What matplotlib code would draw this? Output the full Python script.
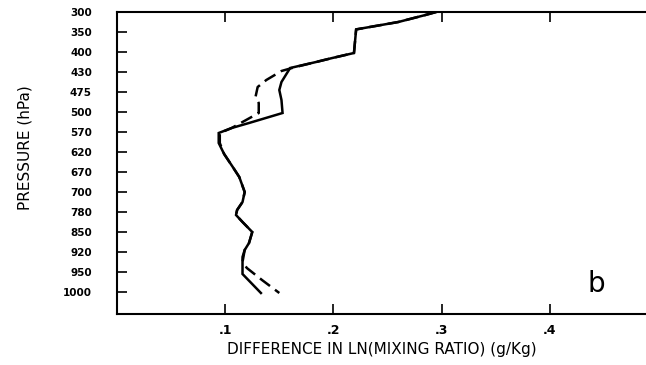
import numpy as np
import matplotlib.pyplot as plt

# pressure levels (plotted evenly spaced, top to bottom)
levels = ['300', '350', '400', '430', '475', '500', '570', '620',
          '670', '700', '780', '850', '920', '950', '1000']

# solid profile: level position (index into levels) and value
solid_lev = [0.0, 0.15, 0.5, 0.87, 2.05, 2.3, 2.5, 2.8, 3.5, 3.9, 4.4,
             5.05, 5.55, 5.8, 6.05, 6.55, 7.1, 7.75, 8.25, 9.0, 9.5, 9.9,
             10.15, 10.5, 11.0, 11.55, 11.9, 12.25, 13.1, 14.05]
solid_val = [0.295, 0.285, 0.26, 0.221, 0.219, 0.199, 0.184, 0.160, 0.152,
             0.150, 0.152, 0.153, 0.122, 0.106, 0.094, 0.094, 0.099, 0.107,
             0.113, 0.118, 0.116, 0.111, 0.110, 0.116, 0.125, 0.122, 0.118,
             0.116, 0.116, 0.133]

# dashed profile
dash_lev = [0.0, 0.15, 0.5, 0.87, 2.05, 2.3, 2.5, 2.75, 2.95, 3.4, 3.75,
            4.25, 4.55, 5.05, 5.5, 5.8, 6.05, 6.55, 7.1, 7.75, 8.25, 9.0,
            9.5, 9.9, 10.15, 10.5, 11.0, 11.55, 11.9, 12.5, 12.8, 13.4, 14.05]
dash_val = [0.295, 0.285, 0.26, 0.221, 0.219, 0.199, 0.184, 0.165, 0.152,
            0.138, 0.130, 0.128, 0.131, 0.131, 0.116, 0.106, 0.095, 0.095,
            0.099, 0.107, 0.113, 0.118, 0.116, 0.111, 0.110, 0.116, 0.125,
            0.122, 0.118, 0.116, 0.120, 0.134, 0.150]

xticks = [0.1, 0.2, 0.3, 0.4]
xticklabels = ['.1', '.2', '.3', '.4']

fig = plt.figure(figsize=(6.46, 3.65), dpi=100)
ax = fig.add_axes([117/646, 1 - 314/365, 1 - 117/646, (314 - 12)/365])

ax.plot(solid_val, solid_lev, color='black', lw=1.8, solid_joinstyle='miter')
ax.plot(dash_val, dash_lev, color='black', lw=1.8, dashes=(5, 2.5))

ax.set_xlim(0, (646 - 118) / 1080)
ax.set_ylim(15.1, 0)

ax.set_yticks(range(len(levels)))
ax.set_yticklabels(levels, fontsize=7.5, fontweight='bold')
ax.set_xticks(xticks)
ax.set_xticklabels(xticklabels, fontsize=9, fontweight='bold')

ax.tick_params(axis='y', direction='in', length=7, width=1.2, pad=18)
ax.tick_params(axis='x', direction='in', length=7, width=1.2, pad=7,
               top=True)
ax.spines['right'].set_visible(False)
for s in ['left', 'top', 'bottom']:
    ax.spines[s].set_linewidth(1.5)

ax.set_xlabel('DIFFERENCE IN LN(MIXING RATIO) (g/Kg)', fontsize=11,
              labelpad=4)
fig.text(25/646, 1 - 148/365, 'PRESSURE (hPa)', rotation=90, fontsize=11,
         ha='center', va='center')

ax.text(0.435, 13.6, 'b', fontsize=20, ha='left', va='center')

fig.savefig('out.png', dpi=100)
